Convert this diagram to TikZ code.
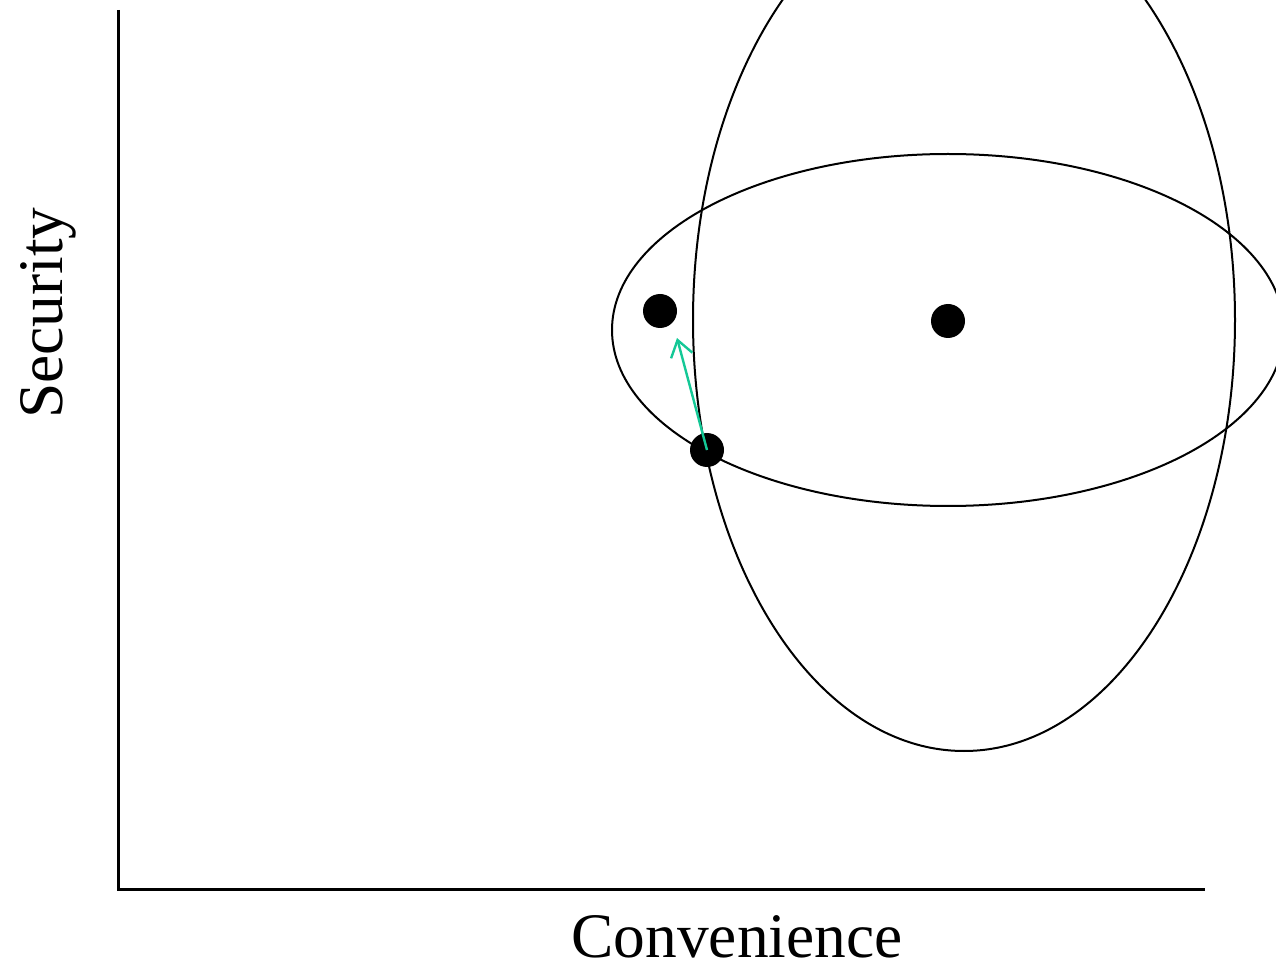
\documentclass[tikz,border=0pt]{standalone}
\usepackage{fontspec}
\setmainfont{Liberation Serif}
\usetikzlibrary{arrows.meta}
\definecolor{movegreen}{RGB}{20,200,150}

\begin{document}
\begin{tikzpicture}[x=0.5pt, y=-0.5pt,
    dot/.style={circle, fill=black, inner sep=0pt, minimum size=17pt},
    axislabel/.style={font=\fontsize{31.7}{38}\selectfont, inner sep=0pt}]
    \useasboundingbox (0,0) rectangle (1276,968);
    \clip (0,0) rectangle (1276,968);

    % Axes
    \coordinate (origin) at (118,889);
    \coordinate (ytop) at (118,10);
    \coordinate (xend) at (1205,889);
    \draw[line width=1.5pt] (ytop) -- (origin) -- (xend);
    \node[axislabel, anchor=base] (xlabel) at (737,957) {Convenience};
    \node[axislabel, anchor=base, rotate=90] (ylabel) at (62,313) {Security};

    % Ellipses
    \draw[line width=1pt] (964,320) ellipse [x radius=271, y radius=431];
    \draw[line width=1pt] (948,330) ellipse [x radius=336, y radius=176];

    % Points
    \node[dot] (upper) at (660,311) {};
    \node[dot] (centre) at (948,321) {};
    \node[dot] (lower) at (707,450) {};

    % Move
    \coordinate (tip) at (677,338);
    \draw[movegreen, line width=1.2pt, -{Straight Barb[length=8pt, width=11pt]}]
        (lower.center) -- (tip);
\end{tikzpicture}
\end{document}
